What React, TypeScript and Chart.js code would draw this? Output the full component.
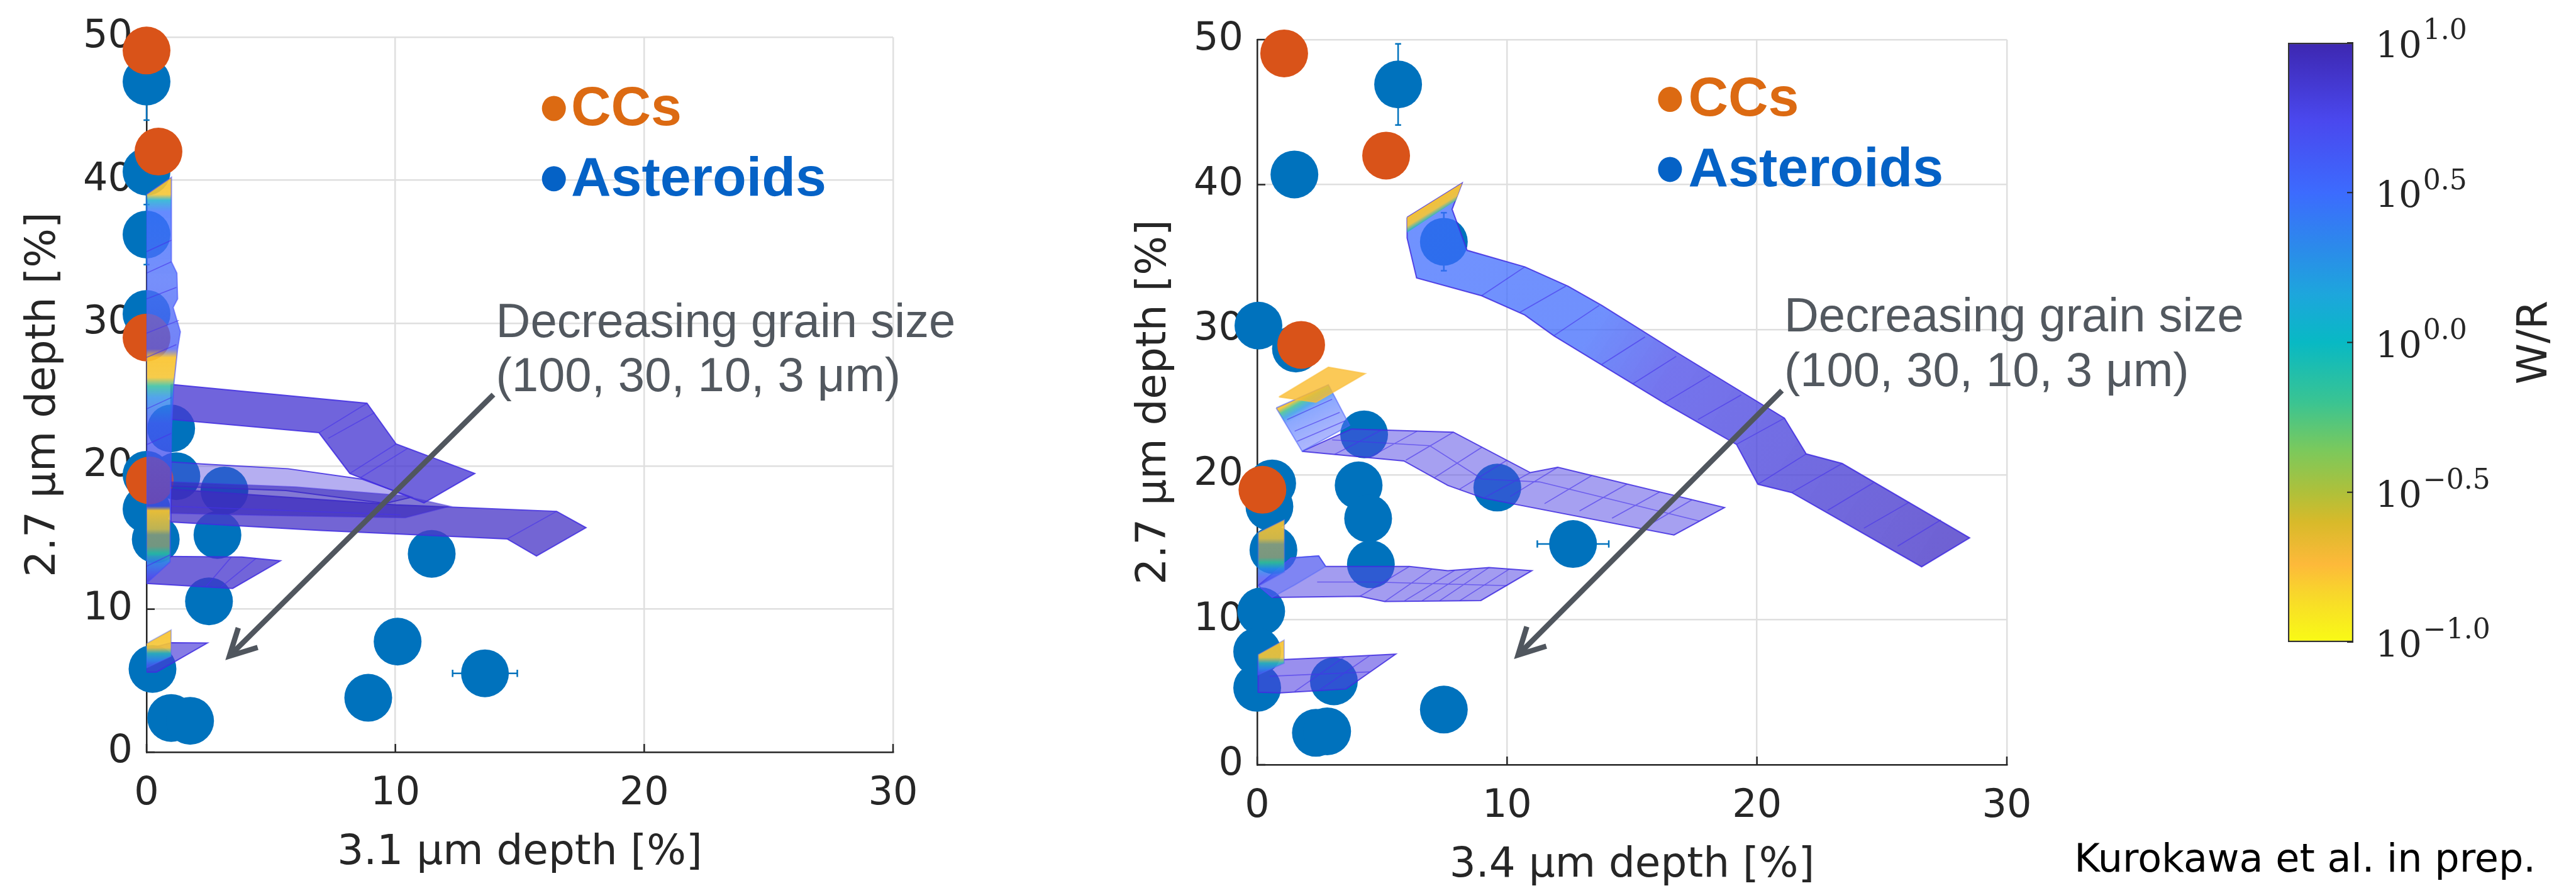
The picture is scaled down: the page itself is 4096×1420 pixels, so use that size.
import React, { useEffect, useRef } from 'react';
import { Chart, registerables } from 'chart.js';

Chart.register(...registerables);

const W = 4096;
const H = 1420;

// ---------------- axes / ticks ----------------
const X_MIN = 0, X_MAX = 30, X_STEP = 10;
const Y_MIN = 0, Y_MAX = 50, Y_STEP = 10;
const X_TICK_VALUES = [0, 10, 20, 30];
const Y_TICK_VALUES = [0, 10, 20, 30, 40, 50];
const LEFT_X_TITLE = '3.1 μm depth [%]';
const RIGHT_X_TITLE = '3.4 μm depth [%]';
const Y_TITLE = '2.7 μm depth [%]';

// ---------------- left panel data [x, y] ----------------
const leftCCs = [[0, 49.07], [0.48, 42.0], [0, 29.0], [0.13, 19.0]];
const leftAsteroids = [
  [0, 46.9], [0, 40.6], [0, 36.2], [0, 30.65], [0.99, 22.64], [1.2, 19.3], [0, 19.4], [0, 17.0],
  [3.13, 18.3], [0.37, 14.88], [2.85, 15.19], [11.46, 13.87], [2.51, 10.55], [10.09, 7.73],
  [13.6, 5.51], [0.24, 5.82], [8.91, 3.8], [0.99, 2.39], [1.75, 2.19],
];
const leftErrV = [[0, 46.9, 2.7], [0, 40.6, 2.3], [0, 36.2, 2.1]]; // x, y, ±y
const leftErrH = [[13.6, 5.51, 1.3]]; // x, y, ±x

// model ribbons (left)
const L_BIG = [[0.98, 18.4], [10.03, 17.3], [16.48, 16.84], [17.66, 15.7], [15.67, 13.72], [14.49, 14.91], [7.0, 15.5], [0.98, 16.1]];
const L_LIGHT = [[0.98, 20.3], [2.22, 20.15], [5.69, 19.82], [8.67, 19.09], [10.65, 17.83], [9.6, 17.4], [5.6, 18.3], [0.98, 18.6]];
const L_DARK = [[0.98, 18.9], [6.0, 18.55], [10.3, 17.95], [12.2, 17.2], [10.4, 16.4], [5.0, 16.55], [0.98, 16.7]];
const L_TOP = [[0.98, 25.72], [8.86, 24.4], [10.03, 21.55], [13.19, 19.49], [11.15, 17.43], [8.17, 19.49], [6.93, 22.34], [0.98, 23.27]];
const L_LOW = [[0, 13.7], [3.83, 13.65], [5.38, 13.38], [3.46, 11.45], [0, 11.8]];
const L_SMALL = [[0, 7.2], [1.0, 7.65], [2.44, 7.63], [0.4, 5.6], [0, 5.6]];
const L_SMALL_G = [[0, 7.6], [0.99, 8.55], [0.99, 6.7], [0, 5.9]];
const L_VERT = [
  [0, 39.0], [1.0, 40.2], [1.0, 34.3], [1.22, 33.5], [1.25, 31.7], [1.07, 31.1], [1.36, 29.4], [1.25, 28.2],
  [1.1, 25.8], [1.0, 22.5], [0.98, 19.5], [0.95, 16.8], [0.95, 13.3], [0, 11.8],
];
const L_GRID = [
  [8.86, 24.4, 6.93, 22.34], [9.16, 23.74, 7.3, 21.94], [10.03, 21.55, 8.17, 19.49], [10.5, 21.25, 8.6, 19.2],
  [16.48, 16.84, 14.49, 14.91], [0, 35.0, 1.0, 35.8], [0, 33.5, 1.0, 34.3], [0, 31.7, 1.2, 32.5],
  [0, 29.3, 1.3, 30.2], [0, 27.6, 1.2, 28.5], [0, 24.0, 1.0, 24.8], [0, 21.5, 1.0, 22.3], [0, 13.0, 0.95, 13.8],
  [3.4, 13.63, 2.4, 11.6], [4.4, 13.55, 3.0, 11.55], [0.98, 17.2, 10.2, 16.6],
];

// ---------------- right panel data [x, y] ----------------
const rightCCs = [[1.08, 49.05], [5.16, 42.0], [1.76, 28.95], [0.21, 18.96]];
const rightAsteroids = [
  [5.64, 46.91], [1.49, 40.7], [7.47, 36.06], [0.05, 30.28], [1.55, 28.7], [4.28, 22.78], [0.6, 19.4],
  [0.49, 17.8], [4.06, 19.26], [4.44, 16.98], [9.61, 19.11], [12.64, 15.22], [0.65, 14.8], [4.55, 13.82],
  [0.16, 10.58], [0, 7.8], [0, 5.3], [3.07, 5.75], [7.47, 3.8], [2.35, 2.2], [2.8, 2.3],
];
const rightErrV = [[5.64, 46.91, 2.8], [7.47, 36.06, 2.0]];
const rightErrH = [[12.64, 15.22, 1.43]];

// model ribbons (right)
const R_BIG = [
  [6.0, 37.74], [8.2, 40.1], [7.8, 38.3], [8.4, 35.47], [10.71, 34.33], [12.44, 33.0], [13.79, 31.67],
  [16.87, 28.35], [21.1, 23.9], [21.97, 21.43], [23.41, 20.77], [28.51, 15.64], [26.59, 13.65],
  [21.39, 18.77], [20.04, 19.34], [19.18, 22.09], [16.29, 24.94], [11.87, 29.58], [10.71, 31.01],
  [8.98, 32.34], [6.38, 33.57], [6.0, 36.32],
];
const R_BIG_TOP = [[6.0, 37.74], [8.2, 40.1], [7.95, 38.9], [6.0, 36.7]];
const R_MID = [
  [1.8, 21.61], [3.78, 23.15], [7.85, 22.93], [10.93, 20.14], [12.03, 20.51], [18.7, 17.73],
  [16.68, 15.84], [9.06, 18.38], [7.63, 19.26], [5.87, 20.95],
];
const R_MID_LEFT = [[0.76, 24.6], [2.85, 26.2], [3.7, 23.4], [1.8, 21.61]];
const R_FLAP = [[0.87, 25.36], [2.85, 27.42], [4.33, 26.97], [2.35, 24.99]];
const R_LOW = [
  [0.04, 12.35], [1.36, 14.26], [2.46, 14.4], [2.74, 13.67], [6.09, 13.67], [7.63, 13.38], [9.28, 13.6],
  [10.99, 13.38], [8.95, 11.32], [5.1, 11.25], [4.11, 11.61], [0.6, 11.54],
];
const R_LOW_LEFT = [[0.04, 12.35], [1.36, 14.26], [2.46, 14.4], [2.74, 13.67], [1.5, 12.4], [0.6, 11.54]];
const R_VERT = [[0.04, 16.0], [1.09, 16.9], [1.09, 13.3], [0.04, 12.3]];
const R_SMALL = [[0.04, 7.17], [1.08, 7.25], [3.0, 7.4], [5.54, 7.62], [3.55, 5.22], [0.94, 4.95], [0.04, 5.0]];
const R_SMALL_G = [[0.04, 7.6], [1.08, 8.6], [1.08, 7.0], [0.04, 6.2]];
const R_GRID = [
  [8.98, 32.34, 10.71, 34.33], [10.52, 31.2, 12.35, 33.0], [11.87, 29.58, 13.69, 31.67], [13.79, 27.6, 15.52, 29.5],
  [15.04, 26.27, 16.77, 28.16], [16.29, 24.94, 18.12, 26.84], [17.64, 23.8, 19.37, 25.5], [19.18, 22.09, 21.1, 23.9],
  [20.04, 19.34, 21.97, 21.43], [21.39, 18.77, 23.41, 20.77], [22.83, 17.54, 24.66, 19.44], [24.28, 16.31, 26.1, 18.11],
  [25.63, 15.07, 27.36, 16.88],
  [5.0, 23.1, 3.1, 21.4], [6.4, 23.0, 4.5, 21.2], [7.85, 22.93, 5.95, 21.0], [9.0, 21.9, 7.1, 19.8],
  [10.0, 21.0, 8.1, 19.0], [10.93, 20.14, 9.06, 18.38], [12.03, 20.51, 10.13, 18.5], [13.4, 19.95, 11.5, 18.0],
  [14.8, 19.35, 12.9, 17.5], [16.1, 18.8, 14.2, 17.0], [17.4, 18.27, 15.5, 16.35],
  [3.0, 22.4, 6.9, 22.0], [6.9, 22.0, 9.0, 19.7], [9.0, 19.7, 11.3, 19.5], [11.3, 19.5, 17.7, 16.8],
  [1.2, 23.8, 3.0, 25.2], [1.5, 23.0, 3.3, 24.3], [1.6, 22.3, 3.5, 23.7],
  [6.09, 13.67, 4.11, 11.61], [7.0, 13.5, 5.1, 11.25], [7.9, 13.4, 5.9, 11.3], [8.6, 13.5, 6.6, 11.3],
  [9.28, 13.6, 7.3, 11.3], [10.1, 13.5, 8.1, 11.3], [2.4, 12.6, 4.6, 12.6], [4.6, 12.6, 10.0, 12.35],
  [4.5, 7.52, 2.5, 5.15], [3.5, 7.45, 1.5, 5.05], [0.5, 6.1, 4.5, 6.4],
];

// ---------------- text ----------------
const LEGEND_TEXT = ['CCs', 'Asteroids'];
const ANNOT_LINES = ['Decreasing grain size', '(100, 30, 10, 3 μm)'];
const LEFT_LEGEND_POS = { bx: 16.37, tx: 17.06, y: [45.02, 40.1] };
const RIGHT_LEGEND_POS = { bx: 16.52, tx: 17.25, y: [45.88, 41.05] };
const LEFT_ANNOT_POS = { x: 14.04, y: [29.93, 26.17] };
const RIGHT_ANNOT_POS = { x: 21.09, y: [30.78, 27.03] };
const LEFT_ARROW = [13.94, 25.0, 3.33, 6.72];
const RIGHT_ARROW = [21.0, 25.8, 10.44, 7.57];

// ---------------- colorbar ----------------
const CB_MIN = -1, CB_MAX = 1;
const CB_TICKS = [1, 0.5, 0, -0.5, -1];
const CB_TICK_EXP = ['1.0', '0.5', '0.0', '−0.5', '−1.0'];
const CB_TITLE = 'W/R';
const CREDIT = 'Kurokawa et al. in prep.';

// ---------------- styles ----------------
const BLUE = '#0072BD';
const ORANGE = '#D95319';
const CC_TEXT = '#DC6A12';
const AST_TEXT = '#0562C6';
const AXIS_COLOR = '#262626';
const GRID_COLOR = '#dfdfdf';
const NOTE_COLOR = '#52585F';
const EDGE = 'rgba(65,45,225,0.85)';
const PARULA = [
  [0.0, '#F9FB15'], [0.08, '#F8D72B'], [0.13, '#FDB93A'], [0.2, '#D8BA2A'], [0.25, '#AFC03A'],
  [0.32, '#7BC95C'], [0.4, '#3AC492'], [0.5, '#08B9C4'], [0.58, '#1DA6DC'], [0.65, '#2A8DE9'],
  [0.75, '#3C6BFE'], [0.87, '#4A48EE'], [1.0, '#3D27B0'],
];
const YEL = 'rgba(250,195,45,0.92)';
const YEL2 = 'rgba(245,198,55,0.9)';
const CYAN = 'rgba(40,185,185,0.85)';
const BLU = 'rgba(45,140,235,0.8)';

const VERT_LEFT_STOPS = [
  [40.2, YEL], [39.0, YEL2], [38.6, 'rgba(30,175,210,0.85)'], [37.8, 'rgba(62,110,254,0.8)'],
  [33.0, 'rgba(80,112,250,0.78)'], [28.2, 'rgba(75,95,245,0.78)'], [27.6, YEL], [26.2, YEL2],
  [25.6, 'rgba(50,190,160,0.85)'], [24.8, 'rgba(40,140,232,0.8)'], [23.0, 'rgba(70,90,245,0.78)'],
  [17.2, 'rgba(70,70,225,0.78)'], [16.9, YEL], [15.6, 'rgba(215,188,70,0.88)'], [15.2, 'rgba(135,155,120,0.88)'],
  [14.4, 'rgba(130,155,120,0.88)'], [13.9, 'rgba(45,190,160,0.85)'], [13.3, 'rgba(40,140,232,0.8)'],
  [12.3, 'rgba(70,80,240,0.78)'], [11.8, 'rgba(75,60,215,0.78)'],
];
const VERT_RIGHT_STOPS = [
  [16.9, YEL], [15.6, 'rgba(230,190,60,0.9)'], [15.2, 'rgba(140,158,120,0.9)'], [14.3, 'rgba(135,155,120,0.9)'],
  [13.95, 'rgba(50,190,150,0.9)'], [13.5, 'rgba(40,140,232,0.85)'], [12.9, 'rgba(70,85,245,0.8)'], [12.3, 'rgba(75,60,220,0.75)'],
];
const SMALL_LEFT_STOPS = [[8.55, YEL], [7.3, YEL2], [6.9, CYAN], [6.4, BLU], [5.9, 'rgba(70,80,240,0.7)']];
const SMALL_RIGHT_STOPS = [[8.6, YEL], [7.4, YEL2], [7.0, CYAN], [6.6, BLU], [6.2, 'rgba(70,80,240,0.7)']];

const leftPolys = [
  { pts: L_BIG, fill: 'rgba(75,58,200,0.78)', stroke: EDGE },
  { pts: L_LIGHT, fill: 'rgba(90,75,225,0.45)', stroke: EDGE },
  { pts: L_DARK, fill: 'rgba(55,38,185,0.62)', stroke: 'rgba(65,45,225,0.4)' },
  { pts: L_TOP, fill: 'rgba(72,56,210,0.78)', stroke: EDGE },
  { pts: L_LOW, fill: 'rgba(70,52,205,0.76)', stroke: EDGE },
  { pts: L_SMALL, fill: 'rgba(72,56,215,0.66)', stroke: EDGE },
  { pts: L_SMALL_G, ystops: SMALL_LEFT_STOPS, stroke: 'rgba(80,100,250,0.4)' },
  { pts: L_VERT, ystops: VERT_LEFT_STOPS, stroke: 'rgba(70,80,250,0.6)' },
];
const rightPolys = [
  {
    pts: R_BIG, stroke: EDGE,
    grad: { from: [7.5, 37], to: [27.5, 14.6], stops: [[0, 'rgba(62,108,254,0.74)'], [0.3, 'rgba(62,105,252,0.74)'], [0.45, 'rgba(75,75,232,0.77)'], [1, 'rgba(75,58,200,0.8)']] },
  },
  {
    pts: R_BIG_TOP, stroke: 'rgba(0,0,0,0)',
    grad: { from: [7.1, 38.92], to: [7.5, 37.8], stops: [[0, 'rgba(250,195,45,0.95)'], [0.4, YEL2], [0.65, CYAN], [1, 'rgba(45,140,240,0.2)']] },
  },
  { pts: R_MID, fill: 'rgba(85,72,228,0.52)', stroke: EDGE },
  {
    pts: R_MID_LEFT, stroke: 'rgba(80,100,250,0.6)',
    grad: { from: [1.8, 25.4], to: [2.7, 22.6], stops: [[0, YEL], [0.1, 'rgba(60,190,150,0.85)'], [0.22, 'rgba(40,150,230,0.8)'], [0.35, 'rgba(62,110,254,0.6)'], [1, 'rgba(90,110,250,0.5)']] },
  },
  { pts: R_FLAP, fill: 'rgba(250,188,45,0.8)', stroke: 'rgba(250,190,60,0.6)' },
  { pts: R_LOW, fill: 'rgba(85,72,228,0.54)', stroke: EDGE },
  { pts: R_LOW_LEFT, fill: 'rgba(75,100,250,0.4)', stroke: 'rgba(80,100,250,0.5)' },
  { pts: R_VERT, ystops: VERT_RIGHT_STOPS, stroke: 'rgba(80,100,250,0.4)' },
  { pts: R_SMALL, fill: 'rgba(80,62,225,0.58)', stroke: EDGE },
  { pts: R_SMALL_G, ystops: SMALL_RIGHT_STOPS, stroke: 'rgba(80,100,250,0.4)' },
];

// ---------------- helpers ----------------
const toPts = (a) => a.map(([x, y]) => ({ x, y }));
const closedPts = (a) => toPts([...a, a[0]]);
const segPts = (list) => {
  const out = [];
  list.forEach(([x1, y1, x2, y2]) => { out.push({ x: x1, y: y1 }, { x: x2, y: y2 }, { x: null, y: null }); });
  return out;
};
const errSegs = (v, h) => {
  const s = [];
  v.forEach(([x, y, e]) => { s.push([x, y - e, x, y + e], [x - 0.12, y - e, x + 0.12, y - e], [x - 0.12, y + e, x + 0.12, y + e]); });
  h.forEach(([x, y, e]) => { s.push([x - e, y, x + e, y], [x - e, y - 0.25, x - e, y + 0.25], [x + e, y - 0.25, x + e, y + 0.25]); });
  return s;
};

function fillStyleFor(chart, st) {
  const ctx = chart.ctx;
  const xs = chart.scales.x, ys = chart.scales.y;
  if (st.grad) {
    const x0 = xs.getPixelForValue(st.grad.from[0]), y0 = ys.getPixelForValue(st.grad.from[1]);
    const x1 = xs.getPixelForValue(st.grad.to[0]), y1 = ys.getPixelForValue(st.grad.to[1]);
    const g = ctx.createLinearGradient(x0, y0, x1, y1);
    st.grad.stops.forEach(([t, c]) => g.addColorStop(t, c));
    return g;
  }
  if (st.ystops) {
    const p0 = ys.getPixelForValue(st.ystops[0][0]);
    const p1 = ys.getPixelForValue(st.ystops[st.ystops.length - 1][0]);
    const g = ctx.createLinearGradient(0, p0, 0, p1);
    st.ystops.forEach(([v, c]) => {
      const t = Math.min(1, Math.max(0, (ys.getPixelForValue(v) - p0) / (p1 - p0)));
      g.addColorStop(t, c);
    });
    return g;
  }
  return st.fill;
}

const polyPlugin = {
  id: 'polyFill',
  beforeDatasetDraw(chart, args) {
    const ds = chart.data.datasets[args.index];
    const st = ds && ds.polyStyle;
    if (!st) return;
    const els = args.meta.data;
    if (!els || !els.length) return;
    const ctx = chart.ctx;
    ctx.save();
    ctx.beginPath();
    els.forEach((e, i) => (i === 0 ? ctx.moveTo(e.x, e.y) : ctx.lineTo(e.x, e.y)));
    ctx.closePath();
    ctx.fillStyle = fillStyleFor(chart, st);
    ctx.fill();
    ctx.restore();
  },
};

function drawArrow(ctx, x0, y0, x1, y1) {
  ctx.strokeStyle = '#50565E';
  ctx.lineWidth = 8.5;
  ctx.lineCap = 'butt';
  ctx.lineJoin = 'miter';
  ctx.beginPath();
  ctx.moveTo(x0, y0);
  ctx.lineTo(x1, y1);
  ctx.stroke();
  const ang = Math.atan2(y0 - y1, x0 - x1);
  const L = 47, da = 0.485;
  ctx.beginPath();
  ctx.moveTo(x1 + L * Math.cos(ang - da), y1 + L * Math.sin(ang - da));
  ctx.lineTo(x1, y1);
  ctx.lineTo(x1 + L * Math.cos(ang + da), y1 + L * Math.sin(ang + da));
  ctx.stroke();
}

function notesPlugin(legendPos, annotPos, arrow) {
  return {
    id: 'notes',
    beforeDatasetsDraw(chart) {
      const { ctx, chartArea: a, scales } = chart;
      ctx.save();
      ctx.strokeStyle = AXIS_COLOR;
      ctx.lineWidth = 2.5;
      X_TICK_VALUES.forEach((v) => {
        const px = scales.x.getPixelForValue(v);
        ctx.beginPath(); ctx.moveTo(px, a.bottom); ctx.lineTo(px, a.bottom - 13); ctx.stroke();
      });
      Y_TICK_VALUES.forEach((v) => {
        const py = scales.y.getPixelForValue(v);
        ctx.beginPath(); ctx.moveTo(a.left, py); ctx.lineTo(a.left + 13, py); ctx.stroke();
      });
      ctx.restore();
    },
    afterDraw(chart) {
      const { ctx, scales } = chart;
      const px = (x) => scales.x.getPixelForValue(x);
      const py = (y) => scales.y.getPixelForValue(y);
      ctx.save();
      const colors = [CC_TEXT, AST_TEXT];
      LEGEND_TEXT.forEach((t, i) => {
        const by = py(legendPos.y[i]);
        ctx.fillStyle = colors[i];
        ctx.beginPath();
        ctx.ellipse(px(legendPos.bx), by, 19, 20, 0, 0, Math.PI * 2);
        ctx.fill();
        ctx.font = 'bold 88px "Liberation Sans", Arial, sans-serif';
        ctx.textAlign = 'left';
        ctx.textBaseline = 'middle';
        ctx.fillText(t, px(legendPos.tx), by + 2);
      });
      ctx.fillStyle = NOTE_COLOR;
      ctx.font = '76px "Liberation Sans", Arial, sans-serif';
      ctx.textAlign = 'left';
      ctx.textBaseline = 'middle';
      ANNOT_LINES.forEach((t, i) => ctx.fillText(t, px(annotPos.x), py(annotPos.y[i])));
      drawArrow(ctx, px(arrow[0]), py(arrow[1]), px(arrow[2]), py(arrow[3]));
      ctx.restore();
    },
  };
}

function buildDatasets(cc, ast, errV, errH, polys, grid) {
  const ds = [];
  polys.forEach((p, i) => {
    ds.push({
      type: 'line', data: closedPts(p.pts), polyStyle: p, borderColor: p.stroke, borderWidth: 2,
      pointRadius: 0, pointHoverRadius: 0, fill: false, tension: 0, order: 100 - i,
    });
  });
  ds.push({
    type: 'line', data: segPts(grid), borderColor: 'rgba(70,50,235,0.6)', borderWidth: 1.6,
    pointRadius: 0, pointHoverRadius: 0, fill: false, spanGaps: false, tension: 0, order: 0,
  });
  ds.push({ type: 'scatter', data: toPts(cc), backgroundColor: ORANGE, pointBackgroundColor: ORANGE, pointRadius: 38, borderWidth: 0, pointBorderWidth: 0, clip: false, order: 1000 });
  ds.push({ type: 'scatter', data: toPts(ast), backgroundColor: BLUE, pointBackgroundColor: BLUE, pointRadius: 38, borderWidth: 0, pointBorderWidth: 0, clip: false, order: 1001 });
  ds.push({
    type: 'line', data: segPts(errSegs(errV, errH)), borderColor: BLUE, borderWidth: 2.5,
    pointRadius: 0, fill: false, spanGaps: false, clip: false, order: 1002,
  });
  return ds;
}

function scalesFor(xTitle) {
  const tickFont = { family: 'DejaVu Sans', size: 62 };
  const titleFont = { family: 'DejaVu Sans', size: 66 };
  return {
    x: {
      type: 'linear', min: X_MIN, max: X_MAX,
      ticks: { stepSize: X_STEP, font: tickFont, color: AXIS_COLOR, padding: 30, maxRotation: 0 },
      grid: { color: GRID_COLOR, lineWidth: 2.5, drawTicks: false },
      border: { color: AXIS_COLOR, width: 2.5 },
      title: { display: true, text: xTitle, font: titleFont, color: AXIS_COLOR, padding: { top: 0, bottom: 0 } },
      afterFit: (s) => { s.height = 200; },
    },
    y: {
      type: 'linear', min: Y_MIN, max: Y_MAX,
      ticks: { stepSize: Y_STEP, font: tickFont, color: AXIS_COLOR, padding: 22 },
      grid: { color: GRID_COLOR, lineWidth: 2.5, drawTicks: false },
      border: { color: AXIS_COLOR, width: 2.5 },
      title: { display: true, text: Y_TITLE, font: titleFont, color: AXIS_COLOR, padding: { top: 20, bottom: 0 } },
      afterFit: (s) => { s.width = 223; },
    },
  };
}

function panelConfig(opts) {
  return {
    type: 'scatter',
    data: { datasets: buildDatasets(opts.cc, opts.ast, opts.errV, opts.errH, opts.polys, opts.grid) },
    options: {
      animation: false, responsive: false, devicePixelRatio: 1, events: [],
      layout: { padding: opts.padding },
      plugins: { legend: { display: false }, tooltip: { enabled: false } },
      scales: scalesFor(opts.xTitle),
    },
    plugins: [polyPlugin, notesPlugin(opts.legendPos, opts.annotPos, opts.arrow)],
  };
}

const colorbarPlugin = {
  id: 'cbNotes',
  afterDraw(chart) {
    const { ctx, chartArea: a } = chart;
    const ys = chart.scales.y;
    ctx.save();
    ctx.strokeStyle = AXIS_COLOR;
    ctx.lineWidth = 2;
    CB_TICKS.forEach((v) => {
      const p = ys.getPixelForValue(v);
      ctx.beginPath(); ctx.moveTo(a.right, p); ctx.lineTo(a.right - 10, p); ctx.stroke();
    });
    ctx.fillStyle = AXIS_COLOR;
    ctx.textAlign = 'left';
    ctx.textBaseline = 'middle';
    CB_TICKS.forEach((v, i) => {
      const p = ys.getPixelForValue(v);
      ctx.font = '58px "DejaVu Serif", serif';
      ctx.fillText('10', a.right + 35, p + 8);
      const w = ctx.measureText('10').width;
      ctx.font = '44px "DejaVu Serif", serif';
      ctx.fillText(CB_TICK_EXP[i], a.right + 35 + w + 2, p - 17);
    });
    ctx.save();
    ctx.translate(a.right + 290, (a.top + a.bottom) / 2);
    ctx.rotate(-Math.PI / 2);
    ctx.textAlign = 'center';
    ctx.font = '66px "DejaVu Sans", sans-serif';
    ctx.fillText(CB_TITLE, 0, 0);
    ctx.restore();
    ctx.fillStyle = '#000';
    ctx.textAlign = 'right';
    ctx.font = '62px "DejaVu Sans", sans-serif';
    ctx.fillText(CREDIT, a.right + 290, 1370);
    ctx.restore();
  },
};

function colorbarConfig() {
  return {
    type: 'bar',
    data: {
      labels: [CB_TITLE],
      datasets: [{
        data: [[CB_MIN, CB_MAX]],
        backgroundColor: (c) => {
          const ch = c.chart;
          const a = ch.chartArea;
          if (!a) return '#888';
          const g = ch.ctx.createLinearGradient(0, a.bottom, 0, a.top);
          PARULA.forEach(([t, col]) => g.addColorStop(t, col));
          return g;
        },
        borderColor: '#333333', borderWidth: 2.5, borderSkipped: false,
        barPercentage: 1, categoryPercentage: 1,
      }],
    },
    options: {
      animation: false, responsive: false, devicePixelRatio: 1, events: [],
      layout: { padding: { left: 3638, right: W - 3742, top: 68, bottom: H - 1021 } },
      plugins: { legend: { display: false }, tooltip: { enabled: false } },
      scales: { x: { display: false }, y: { display: false, min: CB_MIN, max: CB_MAX } },
    },
    plugins: [colorbarPlugin],
  };
}

export default function App() {
  const leftRef = useRef(null);
  const rightRef = useRef(null);
  const cbRef = useRef(null);
  useEffect(() => {
    const left = new Chart(leftRef.current, panelConfig({
      cc: leftCCs, ast: leftAsteroids, errV: leftErrV, errH: leftErrH, polys: leftPolys, grid: L_GRID,
      xTitle: LEFT_X_TITLE, padding: { left: 10, top: 43, right: W - 1420, bottom: 24 },
      legendPos: LEFT_LEGEND_POS, annotPos: LEFT_ANNOT_POS, arrow: LEFT_ARROW,
    }));
    const right = new Chart(rightRef.current, panelConfig({
      cc: rightCCs, ast: rightAsteroids, errV: rightErrV, errH: rightErrH, polys: rightPolys, grid: R_GRID,
      xTitle: RIGHT_X_TITLE, padding: { left: 1776, top: 63, right: W - 3191, bottom: 4 },
      legendPos: RIGHT_LEGEND_POS, annotPos: RIGHT_ANNOT_POS, arrow: RIGHT_ARROW,
    }));
    const cb = new Chart(cbRef.current, colorbarConfig());
    return () => { left.destroy(); right.destroy(); cb.destroy(); };
  }, []);
  const cs = { position: 'absolute', left: 0, top: 0 };
  return (
    <div style={{ position: 'fixed', left: 0, top: 0, width: W, height: H, background: '#ffffff', overflow: 'hidden' }}>
      <canvas ref={cbRef} width={W} height={H} style={cs} />
      <canvas ref={leftRef} width={W} height={H} style={cs} />
      <canvas ref={rightRef} width={W} height={H} style={cs} />
    </div>
  );
}
